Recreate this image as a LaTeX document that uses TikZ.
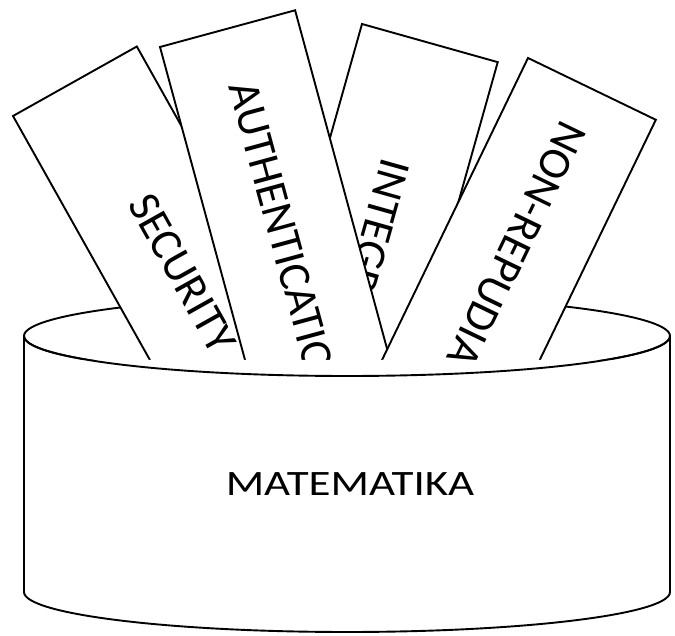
\documentclass[tikz,border=0pt]{standalone}
\usepackage{fontspec}
\setmainfont{Carlito}
\begin{document}
\begin{tikzpicture}[x=1pt,y=1pt,line width=1.9pt,line join=miter,
  card/.style={draw=black,fill=white},
  cardtext/.style={font=\fontsize{45}{54}\selectfont,inner sep=0pt,transform shape},
  rimr/.style={x radius=323,y radius=40}]
\useasboundingbox (0,0) rectangle (675,636);
% top ellipse of the pot
\draw[fill=white] (347,300) ellipse [rimr];
% cards, clipped where the pot body begins
\begin{scope}
\clip (0,276) rectangle (675,636);
\begin{scope}[shift={(362,612)},rotate=-105.7]
  \draw[card] (0,0) rectangle (420,141);
  \node[cardtext] (tint) at (218,70.5) {INTEGRITY};
\end{scope}
\begin{scope}[shift={(13,520)},rotate=-60.7]
  \draw[card] (0,0) rectangle (420,142);
  \node[cardtext] (tsec) at (220,71) {SECURITY};
\end{scope}
\begin{scope}[shift={(160,589)},rotate=-74.8]
  \draw[card] (0,0) rectangle (420,140);
  \node[cardtext] (taut) at (220,70) {AUTHENTICATION};
\end{scope}
\begin{scope}[shift={(528,578)},rotate=-115.8]
  \draw[card] (0,0) rectangle (420,142);
  \node[cardtext] (tnon) at (217,71) {NON-REPUDIATION};
\end{scope}
\end{scope}
% pot body
\fill[white] (24,276) -- (24,44) arc[start angle=180,end angle=360,rimr] -- (670,276) -- cycle;
\draw (24,300) arc[start angle=180,end angle=360,rimr];
\draw (24,300) -- (24,44) arc[start angle=180,end angle=360,rimr] -- (670,300);
\node[font=\fontsize{35.7}{42}\selectfont,inner sep=0pt,xscale=1.26] (mat) at (350,152) {MATEMATIKA};
\end{tikzpicture}
\end{document}
